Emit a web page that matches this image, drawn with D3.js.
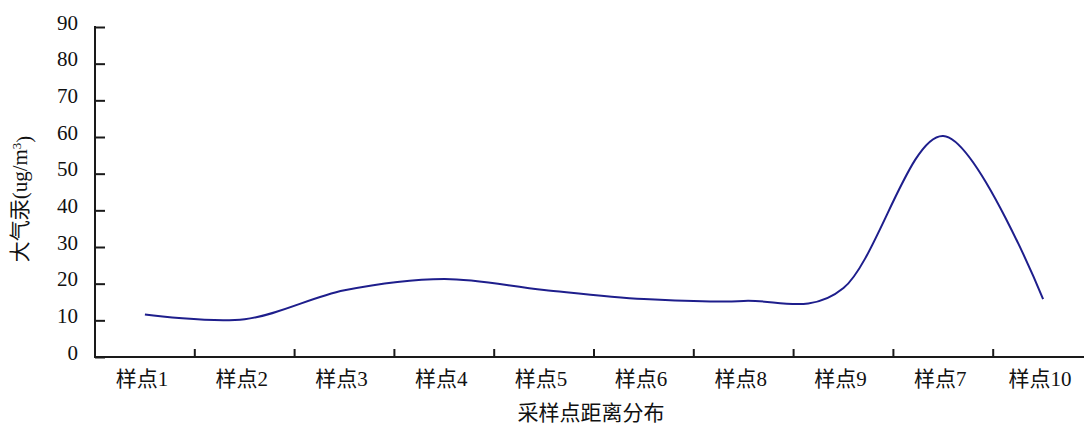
<!DOCTYPE html>
<html>
<head>
<meta charset="utf-8">
<script src="https://cdn.jsdelivr.net/npm/d3@7"></script>
<style>
  html, body { margin: 0; padding: 0; background: #fff; }
  svg { display: block; }
</style>
</head>
<body>
<svg id="chart" width="1084" height="425"></svg>
<script>
const categories = ["样点1", "样点2", "样点3", "样点4", "样点5", "样点6", "样点8", "样点9", "样点7", "样点10"];
const mercury = [11.6, 10.3, 18.2, 21.3, 18.3, 15.8, 15.3, 18.8, 60.3, 15.8];
const yTicks = [0, 10, 20, 30, 40, 50, 60, 70, 80, 90];
const xTitle = "采样点距离分布";
const yTitle = "大气汞(ug/m";

const svg = d3.select("#chart");
const mLeft = 95, mRight = 1093, mTop = 27, mBottom = 357;

const x = d3.scaleBand().domain(categories).range([mLeft, mRight]);
const y = d3.scaleLinear().domain([0, 90]).range([mBottom, mTop]);

const serif = "'Liberation Serif', 'Times New Roman', serif";
const cjk = "'Liberation Serif', 'Noto Sans CJK SC', serif";
const axisColor = "#1a1a1a";

// Y axis
const yAxis = svg.append("g").attr("transform", `translate(${mLeft},0)`)
  .call(d3.axisRight(y).tickValues(yTicks).tickSize(10).tickFormat(d3.format("d")));
yAxis.select(".domain").remove();
yAxis.selectAll(".tick line").attr("stroke", axisColor).attr("stroke-width", 2);
yAxis.selectAll(".tick text").remove();
yAxis.selectAll(".tick").append("text")
  .attr("x", -17).attr("dy", "0.1em")
  .attr("text-anchor", "end")
  .attr("fill", "#111")
  .style("font-family", serif).style("font-size", "21px")
  .text(d => d);
svg.append("line").attr("x1", mLeft).attr("x2", mLeft).attr("y1", mTop - 1).attr("y2", mBottom + 1)
  .attr("stroke", axisColor).attr("stroke-width", 2);

// X axis
svg.append("line").attr("x1", mLeft - 1).attr("x2", mRight).attr("y1", mBottom).attr("y2", mBottom)
  .attr("stroke", axisColor).attr("stroke-width", 2);
const boundaries = categories.slice(1).map(c => x(c));
svg.append("g").selectAll("line").data(boundaries).join("line")
  .attr("x1", d => d).attr("x2", d => d).attr("y1", mBottom).attr("y2", mBottom - 8)
  .attr("stroke", axisColor).attr("stroke-width", 2);
svg.append("g").selectAll("text").data(categories).join("text")
  .attr("x", d => x(d) + x.bandwidth() / 2 - 3)
  .attr("y", 386)
  .attr("text-anchor", "middle")
  .attr("fill", "#111")
  .style("font-family", cjk).style("font-size", "21px")
  .text(d => d);

// Axis titles
svg.append("text")
  .attr("x", 591).attr("y", 420)
  .attr("text-anchor", "middle")
  .attr("fill", "#111")
  .style("font-family", cjk).style("font-size", "21px")
  .text(xTitle);

const yt = svg.append("text")
  .attr("transform", "translate(27,199) rotate(-90)")
  .attr("text-anchor", "middle")
  .attr("fill", "#111")
  .style("font-family", cjk).style("font-size", "21px");
yt.append("tspan").text(yTitle);
yt.append("tspan").attr("dy", "-0.45em").style("font-size", "13px").text("3");
yt.append("tspan").attr("dy", "0.45em").text(")");

// Line
const line = d3.line()
  .x((d, i) => x(categories[i]) + x.bandwidth() / 2)
  .y(d => y(d))
  .curve(d3.curveCardinal.tension(0));
svg.append("path").datum(mercury)
  .attr("d", line)
  .attr("fill", "none")
  .attr("stroke", "#1e1e8c")
  .attr("stroke-width", 2);
</script>
</body>
</html>
